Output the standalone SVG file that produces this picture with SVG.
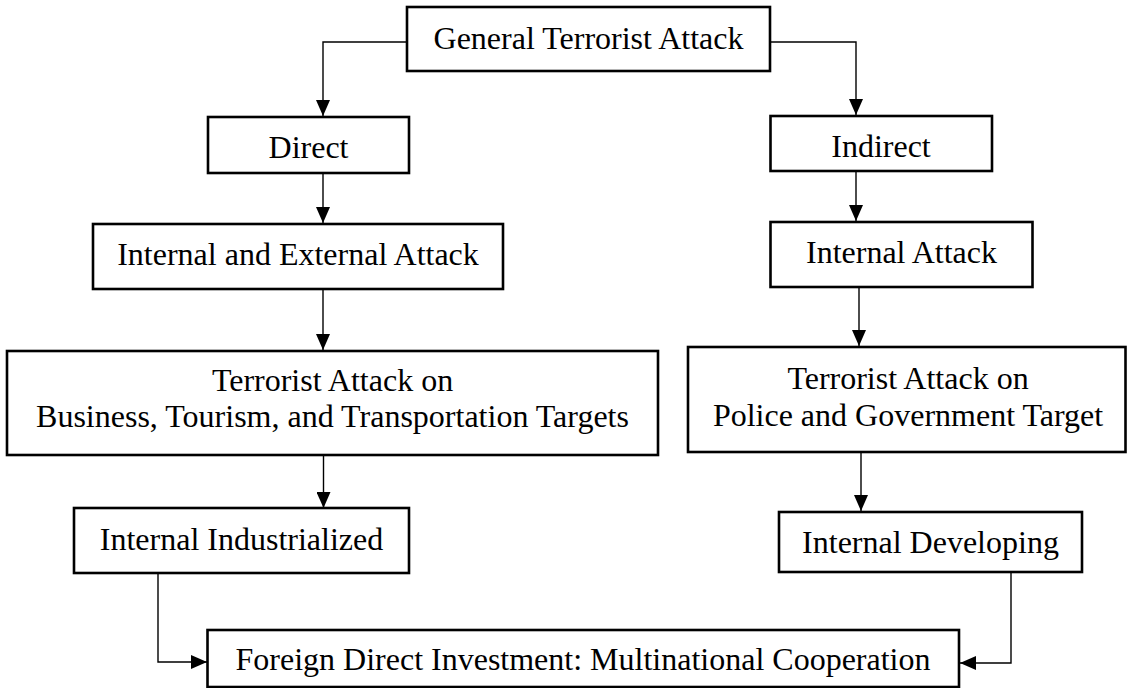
<svg xmlns="http://www.w3.org/2000/svg" width="1127" height="688" viewBox="0 0 1127 688">
<defs>
<style>
.box{fill:#fff;stroke:#000;stroke-width:2.6}
.lbl{font-family:"Liberation Serif","Times New Roman",serif;font-size:32px;fill:#000;text-anchor:middle}
.con{fill:none;stroke:#000;stroke-width:1.4}
</style>
<marker id="ah" markerUnits="userSpaceOnUse" markerWidth="16" markerHeight="14" refX="16" refY="7" orient="auto">
<path d="M0,0 L16,7 L0,14 z" fill="#000"/>
</marker>
</defs>
<rect width="1127" height="688" fill="#fff"/>
<g id="connectors">
<path class="con" d="M407,42 H323 V116" marker-end="url(#ah)"/>
<path class="con" d="M771,42 H856 V115" marker-end="url(#ah)"/>
<path class="con" d="M323,173 V223" marker-end="url(#ah)"/>
<path class="con" d="M856,171 V221" marker-end="url(#ah)"/>
<path class="con" d="M323,289 V350" marker-end="url(#ah)"/>
<path class="con" d="M859,287 V346" marker-end="url(#ah)"/>
<path class="con" d="M323.5,455 V508" marker-end="url(#ah)"/>
<path class="con" d="M861,452 V511" marker-end="url(#ah)"/>
<path class="con" d="M158,573 V662 H207" marker-end="url(#ah)"/>
<path class="con" d="M1011,572 V663 H960" marker-end="url(#ah)"/>
</g>
<g id="general">
<rect class="box" x="407" y="7" width="363" height="64"/>
<text class="lbl" x="588.5" y="49">General Terrorist Attack</text>
</g>
<g id="direct">
<rect class="box" x="208" y="117" width="201" height="56"/>
<text class="lbl" x="308.5" y="158">Direct</text>
</g>
<g id="indirect">
<rect class="box" x="770.5" y="116" width="221.5" height="55"/>
<text class="lbl" x="881" y="157">Indirect</text>
</g>
<g id="internal-external">
<rect class="box" x="93" y="224" width="410" height="65"/>
<text class="lbl" x="298" y="265">Internal and External Attack</text>
</g>
<g id="internal-attack">
<rect class="box" x="770.5" y="222" width="262" height="65"/>
<text class="lbl" x="901.5" y="263">Internal Attack</text>
</g>
<g id="business-targets">
<rect class="box" x="7" y="351" width="651" height="104"/>
<text class="lbl" x="332.5" y="391">Terrorist Attack on</text>
<text class="lbl" x="332.5" y="427">Business, Tourism, and Transportation Targets</text>
</g>
<g id="police-targets">
<rect class="box" x="688" y="347" width="437.5" height="105"/>
<text class="lbl" x="908" y="389">Terrorist Attack on</text>
<text class="lbl" x="908" y="425.5">Police and Government Target</text>
</g>
<g id="industrialized">
<rect class="box" x="74" y="508" width="335" height="65"/>
<text class="lbl" x="241.5" y="550">Internal Industrialized</text>
</g>
<g id="developing">
<rect class="box" x="779" y="512" width="303" height="60"/>
<text class="lbl" x="930.5" y="553">Internal Developing</text>
</g>
<g id="fdi">
<rect class="box" x="207.5" y="630" width="751.5" height="57"/>
<text class="lbl" x="583" y="670">Foreign Direct Investment: Multinational Cooperation</text>
</g>
</svg>
